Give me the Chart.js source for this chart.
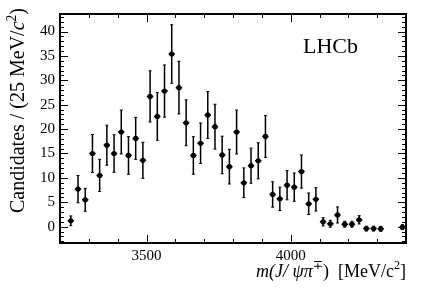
<!DOCTYPE html>
<html><head><meta charset="utf-8">
<script src="https://cdn.jsdelivr.net/npm/chart.js@4/dist/chart.umd.min.js"></script>
<style>html,body{margin:0;padding:0;background:#fff}</style>
</head><body>
<canvas id="c" width="427" height="290"></canvas>
<script>
// ---- data ----
const binCenters = [3212.5,3237.5,3262.5,3287.5,3312.5,3337.5,3362.5,3387.5,3412.5,3437.5,3462.5,3487.5,
  3512.5,3537.5,3562.5,3587.5,3612.5,3637.5,3662.5,3687.5,3712.5,3737.5,3762.5,3787.5,
  3812.5,3837.5,3862.5,3887.5,3912.5,3937.5,3962.5,3987.5,4012.5,4037.5,4062.5,4087.5,
  4112.5,4137.5,4162.5,4187.5,4212.5,4237.5,4262.5,4287.5,4312.5,4337.5,4362.5,4387.5];
const counts = [null,1.2,7.7,5.5,15.0,10.5,16.7,15.0,19.4,14.6,18.1,13.6,
  26.7,22.6,27.8,35.4,28.5,21.3,14.6,17.1,22.9,20.5,14.7,12.3,
  19.4,9.0,12.5,13.5,18.5,6.6,5.7,8.5,8.1,11.3,4.7,5.6,
  1.0,0.6,2.4,0.5,0.5,1.4,-0.4,-0.4,-0.45,null,null,-0.1];
const errors = [null,1.0,2.8,2.35,3.9,3.3,4.1,3.85,4.5,3.85,4.3,3.7,
  5.25,4.9,5.35,6.0,5.4,4.7,3.85,4.15,4.8,4.6,3.85,3.55,
  4.5,3.05,3.6,3.7,4.3,2.6,2.4,3.0,2.9,3.4,2.2,2.4,
  0.85,0.7,1.65,0.6,0.6,0.85,0.5,0.5,0.5,null,null,0.5];
const binHalfWidth = 12.5;
const xTickValues = [3500, 4000];
const xTickLabels = ['3500', '4000'];
const yTickValues = [0, 5, 10, 15, 20, 25, 30, 35, 40];
const yTickLabels = ['0', '5', '10', '15', '20', '25', '30', '35', '40'];
const xRange = [3200, 4400];
const yRange = [-3.35, 43.6];
const experimentLabel = 'LHCb';

const SERIF = '"Liberation Serif", "DejaVu Serif", serif';

const points = [];
binCenters.forEach((x, i) => { if (counts[i] !== null) points.push({x: x, y: counts[i], e: errors[i]}); });

function drawRich(ctx, segs, size) {
  let x = 0;
  for (const s of segs) {
    const fs = s.sup ? size * 0.68 : size;
    ctx.font = (s.it ? 'italic ' : '') + fs + 'px ' + SERIF;
    const dy = s.sup ? -size * 0.42 : 0;
    ctx.fillText(s.t, x, dy);
    x += ctx.measureText(s.t).width;
  }
  return x;
}
function measureRich(ctx, segs, size) {
  let x = 0;
  for (const s of segs) {
    const fs = s.sup ? size * 0.68 : size;
    ctx.font = (s.it ? 'italic ' : '') + fs + 'px ' + SERIF;
    x += ctx.measureText(s.t).width;
  }
  return x;
}

const xTitle = [{t:'m(J/', it:true},{t:' ', it:false},{t:'ψπ', it:true},{t:'∓', sup:true},{t:')  [MeV/c'},{t:'2', sup:true},{t:']'}];
const yTitle = [{t:'Candidates / (25 MeV/'},{t:'c', it:true},{t:'2', sup:true},{t:')'}];

const errorBarPlugin = {
  id: 'errbars',
  afterDatasetsDraw(chart) {
    const ctx = chart.ctx, xs = chart.scales.x, ys = chart.scales.y;
    ctx.save();
    ctx.strokeStyle = '#000';
    ctx.lineWidth = 1.5;
    for (const p of points) {
      const px = xs.getPixelForValue(p.x);
      const py = ys.getPixelForValue(p.y);
      const x0 = xs.getPixelForValue(p.x - binHalfWidth), x1 = xs.getPixelForValue(p.x + binHalfWidth);
      const yt = ys.getPixelForValue(p.y + p.e), yb = ys.getPixelForValue(p.y - p.e);
      ctx.beginPath();
      ctx.moveTo(x0 + 0.4, py); ctx.lineTo(x1 - 0.4, py);
      ctx.moveTo(px, yt); ctx.lineTo(px, yb);
      ctx.stroke();
      ctx.beginPath();
      ctx.moveTo(px - 1.5, yt); ctx.lineTo(px + 1.5, yt);
      ctx.moveTo(px - 1.5, yb); ctx.lineTo(px + 1.5, yb);
      ctx.lineWidth = 1; ctx.stroke(); ctx.lineWidth = 1.5;
    }
    ctx.restore();
  }
};

const framePlugin = {
  id: 'frame',
  afterDraw(chart) {
    const ctx = chart.ctx, a = chart.chartArea, xs = chart.scales.x, ys = chart.scales.y;
    ctx.save();
    ctx.strokeStyle = '#000';
    ctx.lineWidth = 1;
    ctx.beginPath();
    for (let v = Math.ceil(xRange[0] / 100) * 100; v <= xRange[1]; v += 100) {
      const px = Math.round(xs.getPixelForValue(v)) + 0.5;
      const len = (v % 500 === 0) ? 8 : 4;
      ctx.moveTo(px, a.bottom); ctx.lineTo(px, a.bottom - len);
      ctx.moveTo(px, a.top); ctx.lineTo(px, a.top + len);
    }
    for (let v = Math.ceil(yRange[0]); v <= yRange[1]; v += 1) {
      const py = Math.round(ys.getPixelForValue(v)) + 0.5;
      const len = (v % 5 === 0) ? 8 : 4;
      ctx.moveTo(a.left, py); ctx.lineTo(a.left + len, py);
      ctx.moveTo(a.right, py); ctx.lineTo(a.right - len, py);
    }
    ctx.stroke();
    ctx.lineWidth = 2;
    ctx.strokeRect(a.left, a.top, a.right - a.left, a.bottom - a.top);

    ctx.fillStyle = '#000';
    ctx.textBaseline = 'alphabetic';
    const wx = measureRich(ctx, xTitle, 18);
    ctx.save();
    ctx.translate(a.right - wx, 277);
    drawRich(ctx, xTitle, 18);
    ctx.restore();
    const wy = measureRich(ctx, yTitle, 20);
    ctx.save();
    ctx.translate(24, 8);
    ctx.rotate(-Math.PI / 2);
    ctx.translate(-wy, 0);
    drawRich(ctx, yTitle, 20);
    ctx.restore();
    ctx.font = '22px ' + SERIF;
    ctx.fillText(experimentLabel, 303, 53);
    ctx.restore();
  }
};

new Chart(document.getElementById('c'), {
  type: 'scatter',
  data: {
    datasets: [{
      data: points,
      pointRadius: 2.6,
      pointHoverRadius: 2.6,
      pointBackgroundColor: '#000',
      pointBorderWidth: 0,
      showLine: false
    }]
  },
  options: {
    responsive: false,
    animation: false,
    events: [],
    layout: { padding: { left: 0, top: 14, right: 21, bottom: 0 } },
    plugins: { legend: { display: false }, tooltip: { enabled: false } },
    scales: {
      x: {
        type: 'linear', min: xRange[0], max: xRange[1],
        grid: { display: false, drawTicks: false },
        border: { display: false },
        afterBuildTicks(s) { s.ticks = xTickValues.map(v => ({ value: v })); },
        afterFit(s) { s.height = 47; },
        ticks: {
          autoSkip: false, maxRotation: 0, padding: 4, color: '#000',
          font: { family: SERIF, size: 15 },
          callback(v) { const i = xTickValues.indexOf(v); return i >= 0 ? xTickLabels[i] : ''; }
        }
      },
      y: {
        type: 'linear', min: yRange[0], max: yRange[1],
        grid: { display: false, drawTicks: false },
        border: { display: false },
        afterBuildTicks(s) { s.ticks = yTickValues.map(v => ({ value: v })); },
        afterFit(s) { s.width = 60; },
        ticks: {
          autoSkip: false, padding: 5, color: '#000',
          font: { family: SERIF, size: 15 },
          callback(v) { const i = yTickValues.indexOf(v); return i >= 0 ? yTickLabels[i] : ''; }
        }
      }
    }
  },
  plugins: [errorBarPlugin, framePlugin]
});
</script>
</body></html>
